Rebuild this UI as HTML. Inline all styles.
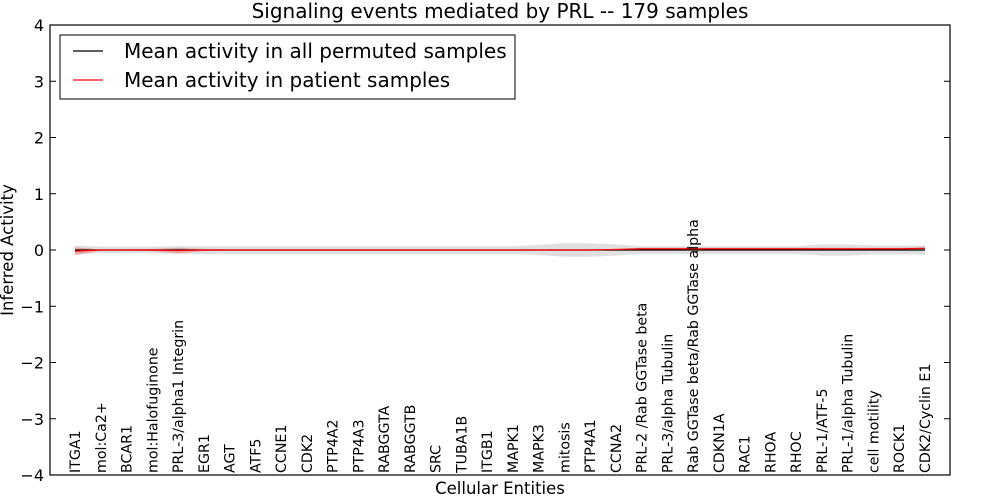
<!DOCTYPE html>
<html><head><meta charset="utf-8"><style>
body{margin:0;background:#fff;font-family:"DejaVu Sans",sans-serif}
svg text{font-family:"DejaVu Sans",sans-serif}
</style></head><body>
<svg id="chart" width="1000" height="500" xmlns="http://www.w3.org/2000/svg">
<rect width="1000" height="500" fill="#fff"/>
<text x="500" y="18" font-size="20" text-anchor="middle">Signaling events mediated by PRL -- 179 samples</text>
<g id="bands"></g><g id="lines"></g>
<rect x="50" y="25" width="900" height="450" fill="none" stroke="#000" stroke-width="1.2"/>
<g id="yaxis"></g><g id="xlabels"></g>
<text x="500" y="494" font-size="16.5" text-anchor="middle">Cellular Entities</text>
<text transform="translate(13,250) rotate(-90)" font-size="16.5" text-anchor="middle">Inferred Activity</text>
<g>
<rect x="60" y="35" width="455" height="64" fill="#fff" stroke="#000" stroke-width="1"/>
<line x1="73" y1="51" x2="103" y2="51" stroke="#000" stroke-width="1.2"/>
<text x="124" y="58" font-size="20">Mean activity in all permuted samples</text>
<line x1="73" y1="80" x2="103" y2="80" stroke="#f00" stroke-width="1.2"/>
<text x="124" y="87" font-size="20">Mean activity in patient samples</text>
</g>
</svg>
<script>
const categories=["ITGA1","mol:Ca2+","BCAR1","mol:Halofuginone","PRL-3/alpha1 Integrin","EGR1","AGT","ATF5","CCNE1","CDK2","PTP4A2","PTP4A3","RABGGTA","RABGGTB","SRC","TUBA1B","ITGB1","MAPK1","MAPK3","mitosis","PTP4A1","CCNA2","PRL-2 /Rab GGTase beta","PRL-3/alpha Tubulin","Rab GGTase beta/Rab GGTase alpha","CDKN1A","RAC1","RHOA","RHOC","PRL-1/ATF-5","PRL-1/alpha Tubulin","cell motility","ROCK1","CDK2/Cyclin E1"];
const permutedMean=[0,0,0,0,0,0,0,0,0,0,0,0,0,0,0,0,0,0,0,0,0,0,0,0,0,0,0,0,0,0,0,0,0,0];
const permutedSpread=[0.08,0.06,0.06,0.06,0.07,0.07,0.07,0.07,0.07,0.07,0.07,0.07,0.07,0.07,0.07,0.07,0.07,0.07,0.09,0.12,0.12,0.1,0.07,0.07,0.07,0.07,0.07,0.07,0.07,0.1,0.1,0.08,0.08,0.08];
const patientMean=[-0.02,0,0,0,-0.01,0,0,0,0,0,0,0,0,0,0,0,0,0,0,0,0,0.01,0.02,0.02,0.02,0.02,0.02,0.02,0.02,0.02,0.02,0.02,0.02,0.03];
const patientSpread=[0.07,0.01,0.01,0.02,0.05,0.02,0.01,0.01,0.01,0.01,0.01,0.01,0.01,0.01,0.01,0.01,0.01,0.01,0.01,0.01,0.01,0.01,0.02,0.02,0.02,0.02,0.02,0.02,0.02,0.02,0.02,0.02,0.02,0.02];
const yTicks=[-4,-3,-2,-1,0,1,2,3,4];
const NS="http://www.w3.org/2000/svg";
const xs=i=>75+i*(850/(categories.length-1));
const ys=v=>250-v*56.25;
function mk(t,a,p){const e=document.createElementNS(NS,t);for(const k in a)e.setAttribute(k,a[k]);p.appendChild(e);return e;}
const bands=document.getElementById('bands'),lines=document.getElementById('lines');
function band(m,s,fill,op,name){let up=m.map((v,i)=>xs(i)+','+ys(v+s[i]));let dn=m.map((v,i)=>xs(i)+','+ys(v-s[i])).reverse();
const p=mk('polygon',{points:up.concat(dn).join(' '),fill:fill,'fill-opacity':op},bands);

}
band(permutedMean,permutedSpread,'#999',0.3,'permuted-band');
band(patientMean,patientSpread,'#f00',0.25,'patient-band');
const l1=mk('polyline',{points:permutedMean.map((v,i)=>xs(i)+','+ys(v)).join(' '),fill:'none',stroke:'#000','stroke-width':1.2},lines);


const l2=mk('polyline',{points:patientMean.map((v,i)=>xs(i)+','+ys(v)).join(' '),fill:'none',stroke:'#f00','stroke-width':1.2},lines);


const ya=document.getElementById('yaxis');
yTicks.forEach(t=>{const y=ys(t);
mk('line',{x1:50,y1:y,x2:56,y2:y,stroke:'#000'},ya);mk('line',{x1:944,y1:y,x2:950,y2:y,stroke:'#000'},ya);
const tx=mk('text',{x:44,y:y+6,'font-size':16,'text-anchor':'end'},ya);tx.textContent=t<0?'\u2212'+(-t):t;

});
const xl=document.getElementById('xlabels');
categories.forEach((c,i)=>{const x=xs(i)+5;
const t=mk('text',{transform:`translate(${x},473) rotate(-90)`,'font-size':14.2},xl);t.textContent=c;

});
</script>
</body></html>
